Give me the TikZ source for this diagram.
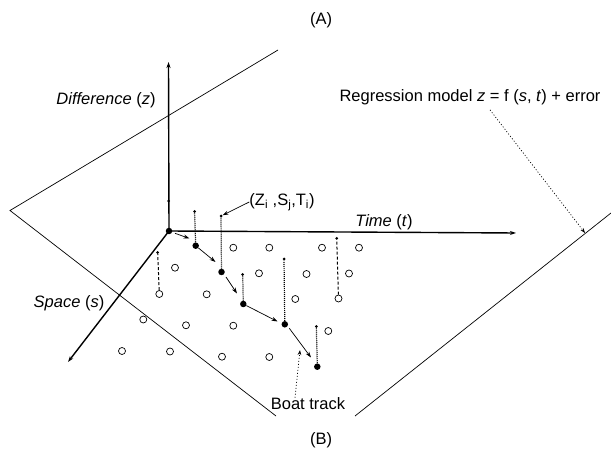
\documentclass[tikz,border=0pt]{standalone}
\usepackage{fontspec}
\setmainfont{Liberation Sans}
\usetikzlibrary{arrows.meta}
\begin{document}
\begin{tikzpicture}[x=1pt,y=-1pt,
  lbl/.style={font=\fontsize{16.5}{19}\selectfont, inner sep=0pt},
  axis/.style={line width=1.4pt,-{Stealth[length=6pt,width=4pt]}},
  plane/.style={line width=0.7pt},
  fdot/.style={circle,fill,inner sep=0pt,minimum size=6.5pt},
  sdot/.style={circle,fill,inner sep=0pt,minimum size=3pt},
  hdot/.style={circle,draw,line width=0.7pt,inner sep=0pt,minimum size=7pt},
  track/.style={line width=0.7pt,-{Stealth[length=6pt,width=4pt]}},
  vdot/.style={line width=1.2pt,dash pattern=on 1pt off 1pt},
  vdash/.style={line width=1pt,dash pattern=on 3pt off 2pt},
  ptr/.style={line width=0.7pt,dash pattern=on 1pt off 2pt,-{Stealth[length=5pt,width=3.5pt]}}
]
\useasboundingbox (0,0) rectangle (611,473);

% regression plane
\coordinate (pl) at (10,210.5);
\coordinate (pt) at (278,50);
\coordinate (pb) at (276,416);
\coordinate (pr1) at (355,416);
\coordinate (pr2) at (611,213);
\draw[plane] (pt) -- (pl) -- (pb);
\draw[plane] (pr1) -- (pr2);

% axes
\node[fdot] (O) at (169,231) {};
\coordinate (zend) at (168.5,62);
\coordinate (tend) at (516,233);
\coordinate (send) at (68,362);
\draw[axis] (O.center) -- (zend);
\draw[axis] (O.center) -- (tend);
\draw[axis] (O.center) -- (send);
\node[sdot] (z0) at (168.5,201) {};

% labels
\node[lbl] (A) at (321,20) {(A)};
\node[lbl] (B) at (321,440) {(B)};
\node[lbl] (dz) at (106,100) {\textit{Difference} (\textit{z})};
\node[lbl] (tt) at (384,222) {\textit{Time} (\textit{t})};
\node[lbl] (ss) at (69,303) {\textit{Space} (\textit{s})};
\node[lbl] (reg) at (470,97) {Regression model \textit{z} = f (\textit{s}, \textit{t}) + error};
\node[lbl] (zst) at (282,202) {(Z\textsubscript{i} ,S\textsubscript{j},T\textsubscript{i})};
\node[lbl] (bt) at (308,404) {Boat track};

% hollow sample points
\foreach \p [count=\k] in {(233.3,247.7),(269.3,247.7),(322,247.7),(359,247.7),
  (175,267.7),(259,273.3),(306.5,274),(349,273.5),
  (159.3,294),(206.7,294.3),(295.3,299),(338.5,298.5),
  (143.3,319.5),(186,325.3),(233.3,325.7),(328.3,331),
  (122,351),(170,351.5),(222,356.7),(269.3,357)}
  \node[hdot] (h\k) at \p {};

% dashed differences at hollow points
\node[sdot] (d9) at (157.7,252.5) {};
\node[sdot] (d12) at (336.7,238.3) {};
\draw[vdash] (h9) -- (d9);
\draw[vdash] (h12) -- (d12);

% boat track points
\node[fdot] (P1) at (195.7,245.7) {};
\node[fdot] (P2) at (221.5,272) {};
\node[fdot] (P3) at (243.3,304) {};
\node[fdot] (P4) at (284.8,324.3) {};
\node[fdot] (P5) at (317.3,366.7) {};
\node[sdot] (T1) at (194.5,211.5) {};
\node[sdot] (T2) at (221,216) {};
\node[sdot] (T3) at (242.7,274.5) {};
\node[sdot] (T4) at (284,259) {};
\node[sdot] (T5) at (316.3,326.5) {};
\foreach \i in {1,...,5} \draw[vdot] (P\i) -- (T\i);

% track arrows
\coordinate (s0) at (175,233.3); \coordinate (e0) at (189.5,238.5);
\coordinate (e1) at (215.5,262);
\coordinate (s2) at (226,277); \coordinate (e2) at (237,293.5);
\coordinate (e3) at (277.5,321.5);
\coordinate (s4) at (289.3,328.3); \coordinate (e4) at (311,357.5);
\draw[track] (s0) -- (e0);
\draw[track] (P1) -- (e1);
\draw[track] (s2) -- (e2);
\draw[track] (P3) -- (e3);
\draw[track] (s4) -- (e4);

% pointers
\coordinate (regtip) at (585,233);
\draw[ptr] ([xshift=20pt,yshift=-5pt]reg.south) -- (regtip);
\coordinate (bttip) at (300,350);
\draw[ptr] ([xshift=-13pt]bt.north) -- (bttip);
\draw[line width=0.7pt,-{Stealth[length=6pt,width=4pt]}] (zst.west) -- ([xshift=2pt,yshift=2pt]T2);
\end{tikzpicture}
\end{document}
